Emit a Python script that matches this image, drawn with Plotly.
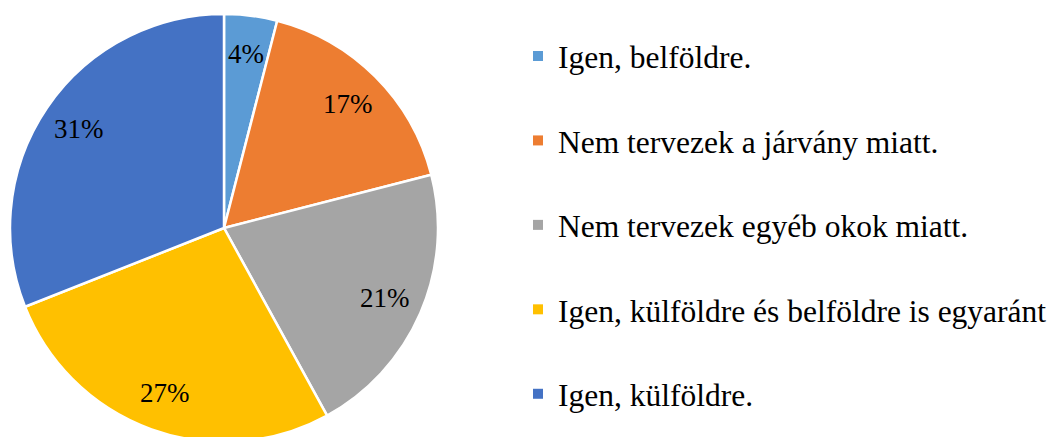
import math

import plotly.graph_objects as go

# ── Data ─────────────────────────────────────────────────────────────
LABELS = [
    "Igen, belföldre.",
    "Nem tervezek a járvány miatt.",
    "Nem tervezek egyéb okok miatt.",
    "Igen, külföldre és belföldre is egyaránt",
    "Igen, külföldre.",
]
VALUES = [4, 17, 21, 27, 31]
COLORS = ["#5B9BD5", "#ED7D31", "#A5A5A5", "#FFC000", "#4472C4"]

# ── Layout constants ─────────────────────────────────────────────────
# (the page body adds an 8 px offset, so positions are 8 px less than
#  the target screenshot positions)
W, H = 1056, 437
FONT = "Times New Roman, Liberation Serif, DejaVu Serif, serif"
R = 214                          # pie radius, px
CX, CY = 216, 6 + R              # pie centre, px from figure top-left
LABEL_R = 0.82 * R               # where Excel put its data labels

fig = go.Figure()

fig.add_trace(go.Pie(
    labels=LABELS,
    values=VALUES,
    sort=False,
    direction="clockwise",
    rotation=0,
    marker=dict(colors=COLORS, line=dict(color="white", width=2.5)),
    textinfo="none",
    hoverinfo="label+value",
    showlegend=False,
    domain=dict(x=[(CX - R) / W, (CX + R) / W],
                y=[1 - (CY + R) / H, 1 - (CY - R) / H]),
))

# Data labels placed along each slice's bisector
total = sum(VALUES)
cum = 0
for v in VALUES:
    mid = (cum + v / 2) / total * 2 * math.pi
    cum += v
    px = CX + LABEL_R * math.sin(mid)
    py = CY - LABEL_R * math.cos(mid)
    fig.add_annotation(
        x=px / W, y=1 - py / H,
        xref="paper", yref="paper",
        text=f"{v}%",
        showarrow=False,
        font=dict(family=FONT, size=27, color="#000000"),
        xanchor="center", yanchor="middle",
    )

# Legend entries (spaced like the Excel legend)
for i, (lab, col) in enumerate(zip(LABELS, COLORS)):
    fig.add_trace(go.Scatter(
        x=[None], y=[None],
        mode="markers",
        name=lab,
        legendgroup=f"g{i}",
        marker=dict(symbol="square", size=10, color=col),
        showlegend=True,
    ))

fig.update_layout(
    width=W,
    height=H,
    margin=dict(l=0, r=0, t=0, b=0),
    paper_bgcolor="white",
    plot_bgcolor="white",
    font=dict(family=FONT),
    xaxis=dict(visible=False),
    yaxis=dict(visible=False),
    legend=dict(
        x=510 / W, y=1 - 21 / H,
        xanchor="left", yanchor="top",
        font=dict(family=FONT, size=31.5, color="#000000"),
        traceorder="grouped",
        tracegroupgap=40.5,
        bgcolor="rgba(0,0,0,0)",
        itemclick=False,
    ),
)

fig.write_html("out.html")
